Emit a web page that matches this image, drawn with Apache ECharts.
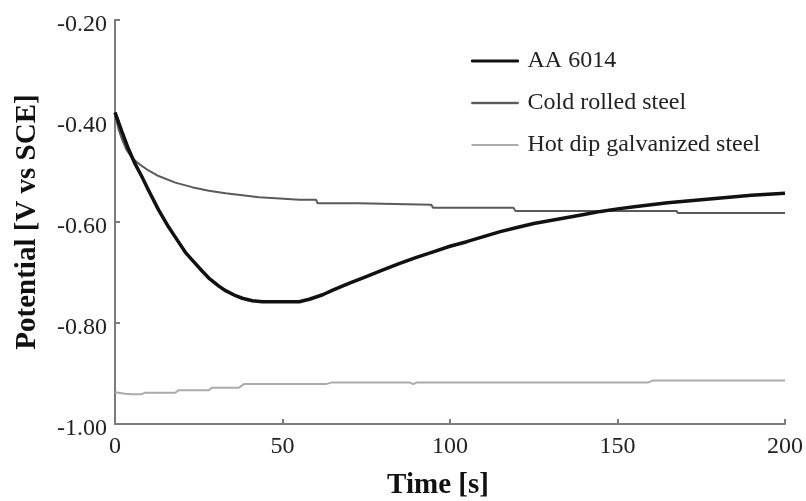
<!DOCTYPE html>
<html>
<head>
<meta charset="utf-8">
<script src="https://cdn.jsdelivr.net/npm/echarts@6/dist/echarts.min.js"></script>
<style>
  html, body { margin: 0; padding: 0; background: #fff; }
  #chart { width: 806px; height: 501px; }
</style>
</head>
<body>
<div id="chart"></div>
<script>
// Open-circuit potential vs time for three substrates
const seriesNames = ['AA 6014', 'Cold rolled steel', 'Hot dip galvanized steel'];
const seriesColors = ['#111111', '#5a5a5a', '#ababab'];

const aaTime = [0, 2, 4, 6, 8, 10, 13, 16, 18, 21, 23, 26, 28, 31, 33, 36, 38, 41, 44, 50, 55, 58, 62, 65, 70, 75, 80, 85, 90, 95, 100, 105, 110, 115, 120, 125, 130, 135, 140, 145, 150, 155, 160, 165, 170, 175, 180, 185, 190, 195, 200];
const aaPotential = [-0.383, -0.420, -0.455, -0.485, -0.510, -0.537, -0.576, -0.610, -0.630, -0.660, -0.675, -0.697, -0.711, -0.727, -0.736, -0.746, -0.751, -0.756, -0.758, -0.758, -0.758, -0.753, -0.744, -0.735, -0.721, -0.708, -0.695, -0.682, -0.670, -0.659, -0.648, -0.639, -0.629, -0.619, -0.611, -0.603, -0.597, -0.591, -0.585, -0.579, -0.574, -0.570, -0.566, -0.562, -0.559, -0.556, -0.553, -0.550, -0.547, -0.545, -0.543];

const crsTime = [0, 1, 2.2, 3.5, 5.2, 7, 8.2, 10, 13, 18, 23, 28, 33, 38, 43, 48, 55, 60, 60.5, 72.5, 73, 94.4, 95, 119, 119.5, 167.6, 168, 200];
const crsPotential = [-0.385, -0.415, -0.438, -0.458, -0.474, -0.484, -0.490, -0.498, -0.509, -0.522, -0.531, -0.538, -0.543, -0.547, -0.551, -0.553, -0.556, -0.556, -0.563, -0.563, -0.566, -0.566, -0.572, -0.572, -0.578, -0.578, -0.582, -0.582];

const hdgTime = [0, 3, 5, 8, 9, 18, 19, 28, 29, 37, 38.5, 63, 64.5, 88, 89, 90, 159, 160.5, 200];
const hdgPotential = [-0.937, -0.940, -0.941, -0.941, -0.938, -0.938, -0.933, -0.933, -0.928, -0.928, -0.921, -0.921, -0.918, -0.918, -0.921, -0.918, -0.918, -0.914, -0.914];

const xTicks = [0, 50, 100, 150, 200];
const yTicks = [-1.0, -0.8, -0.6, -0.4, -0.2];

const pairs = (xs, ys) => xs.map((x, i) => [x, ys[i]]);

const serif = '"Liberation Serif", "DejaVu Serif", serif';
const axisGray = '#7c7c7c';

const chart = echarts.init(document.getElementById('chart'), null, { renderer: 'canvas' });

chart.setOption({
  animation: false,
  backgroundColor: '#ffffff',
  grid: { left: 115, right: 21, top: 20, bottom: 77, containLabel: false, outerBoundsMode: 'none' },
  legend: {
    orient: 'vertical',
    left: 466,
    top: 44,
    itemWidth: 47,
    itemHeight: 2,
    itemGap: 18,
    textStyle: { fontFamily: serif, fontSize: 24, color: '#222', padding: [0, 0, 0, 4] },
    data: [
      { name: seriesNames[0], icon: 'rect', itemStyle: { color: seriesColors[0], borderColor: seriesColors[0], borderWidth: 1 } },
      { name: seriesNames[1], icon: 'rect', itemStyle: { color: seriesColors[1], borderColor: seriesColors[1], borderWidth: 0.4 } },
      { name: seriesNames[2], icon: 'rect', itemStyle: { color: seriesColors[2], borderWidth: 0 } }
    ]
  },
  xAxis: {
    type: 'value',
    min: xTicks[0],
    max: xTicks[xTicks.length - 1],
    interval: 50,
    name: 'Time [s]',
    nameLocation: 'middle',
    nameGap: 47,
    nameTextStyle: { fontFamily: serif, fontSize: 29, fontWeight: 'bold', color: '#111', padding: [0, 24, 0, 0] },
    axisLine: { lineStyle: { color: axisGray, width: 2 } },
    axisTick: { inside: true, length: 5, lineStyle: { color: axisGray, width: 2 } },
    axisLabel: { fontFamily: serif, fontSize: 24, color: '#222', margin: 11 },
    splitLine: { show: false }
  },
  yAxis: {
    type: 'value',
    min: yTicks[0],
    max: yTicks[yTicks.length - 1],
    interval: 0.2,
    name: 'Potential [V vs SCE]',
    nameLocation: 'middle',
    nameGap: 73,
    nameTextStyle: { fontFamily: serif, fontSize: 29, fontWeight: 'bold', color: '#111' },
    axisLine: { lineStyle: { color: axisGray, width: 2 } },
    axisTick: { inside: true, length: 5, lineStyle: { color: axisGray, width: 2 } },
    axisLabel: {
      fontFamily: serif, fontSize: 24, color: '#222', margin: 8,
      verticalAlign: 'top', lineHeight: 10,
      formatter: v => v.toFixed(2)
    },
    splitLine: { show: false }
  },
  series: [
    {
      name: seriesNames[0],
      type: 'line',
      symbol: 'none',
      data: pairs(aaTime, aaPotential),
      lineStyle: { color: seriesColors[0], width: 3.5 },
      itemStyle: { color: seriesColors[0] },
      z: 3
    },
    {
      name: seriesNames[1],
      type: 'line',
      symbol: 'none',
      data: pairs(crsTime, crsPotential),
      lineStyle: { color: seriesColors[1], width: 2 },
      itemStyle: { color: seriesColors[1] },
      z: 2
    },
    {
      name: seriesNames[2],
      type: 'line',
      symbol: 'none',
      data: pairs(hdgTime, hdgPotential),
      lineStyle: { color: seriesColors[2], width: 2 },
      itemStyle: { color: seriesColors[2] },
      z: 1
    }
  ]
});
</script>
</body>
</html>
